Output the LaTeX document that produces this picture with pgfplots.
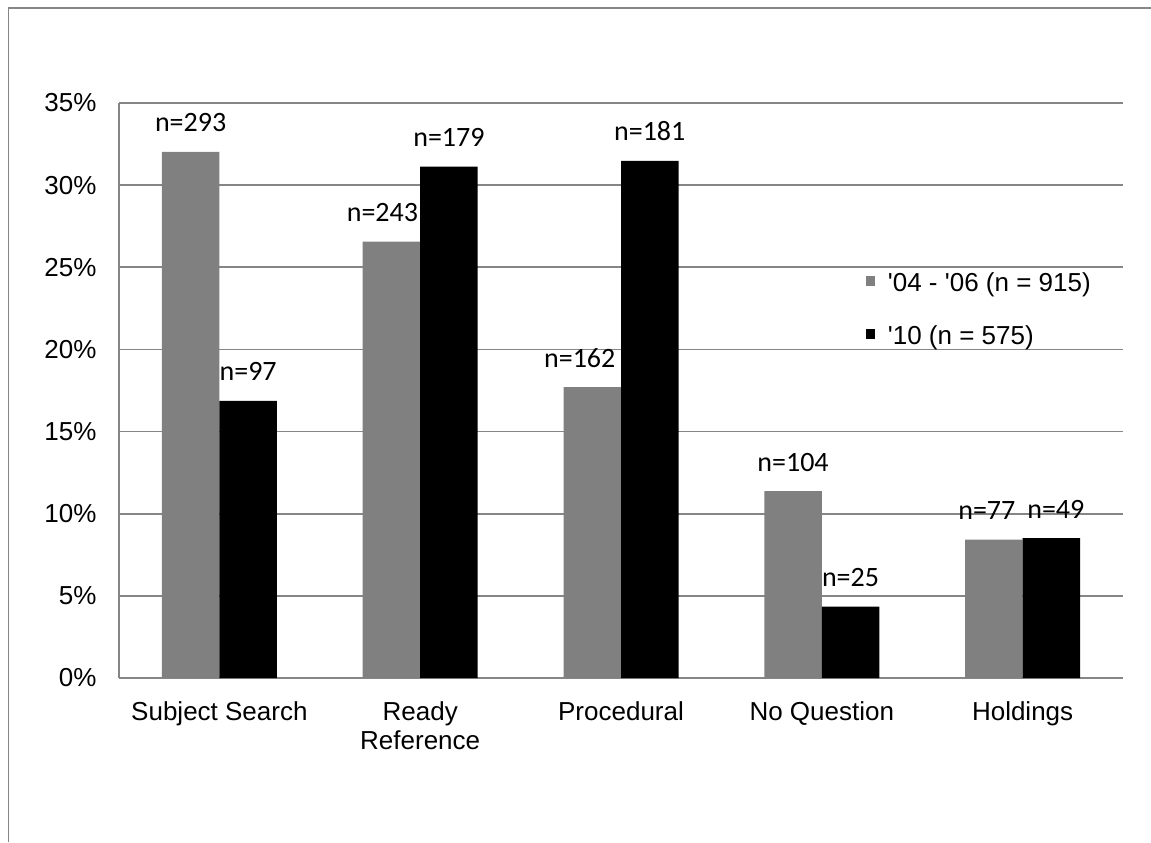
\documentclass[border=0pt]{standalone}
\usepackage{pgfplots}
\usepackage{pgfplotstable}
\pgfplotsset{compat=1.18}
\usepackage{fontspec}
\setmainfont{Liberation Sans}
\newfontfamily\labelfont{Carlito}

\definecolor{gridgray}{HTML}{868686}
\definecolor{bargray}{HTML}{808080}

% share of questions per type; n = count, dx = label nudge (pt)
\pgfplotstableread{
x val   n   dx
0 32.02 293 0
1 26.56 243 -4.5
2 17.70 162 -6.25
3 11.37 104 0
4 8.42  77  -3.5
}\earlydata
\pgfplotstableread{
x val   n   dx
0 16.87 97  0
1 31.13 179 0
2 31.48 181 0
3 4.35  25  0
4 8.52  49  2.25
}\latedata

\begin{document}
\begin{tikzpicture}[x=1pt,y=1pt]
\useasboundingbox (0,0) rectangle (575.5,421);
\draw[gridgray, line width=0.9pt] (4.2,0) -- (4.2,416.8) -- (575.5,416.8);
\begin{axis}[
  at={(59.5pt,82pt)}, anchor=south west,
  scale only axis, width=502pt, height=287.5pt,
  xmin=-0.5, xmax=4.5, ymin=0, ymax=35,
  enlargelimits=false,
  axis lines=left,
  axis line style={gridgray, line width=0.9pt, -},
  ymajorgrids, grid style={gridgray, line width=0.9pt},
  major tick length=0pt,
  ytick={0,5,...,35},
  yticklabels={0\%,5\%,10\%,15\%,20\%,25\%,30\%,35\%},
  xtick={0,1,2,3,4},
  xticklabels={Subject Search,{Ready\\Reference},Procedural,No Question,Holdings},
  ticklabel style={font=\fontsize{13}{14.5}\selectfont},
  xticklabel style={align=center, anchor=north, yshift=-8.5pt},
  yticklabel style={anchor=east, xshift=-7.7pt},
  ybar, bar width=28.75pt,
  point meta=explicit symbolic,
  visualization depends on={\thisrow{dx} \as \dx},
  nodes near coords={n=\pgfplotspointmeta},
  nodes near coords style={font=\labelfont\fontsize{14}{16}\selectfont,
    anchor=base, inner sep=0pt, yshift=10pt, xshift=\dx pt},
  legend style={draw=none, fill=none, at={(rel axis cs:0.744,0.706)},
    anchor=north west, inner sep=0pt, row sep=15.5pt,
    font=\fontsize{13}{14}\selectfont,
    nodes={inner sep=0pt}},
  legend cell align=left,
  legend image code/.code={\fill[#1] (0pt,-1.3pt) rectangle (4.25pt,3.7pt);\path (10.75pt,0pt);},
]
\addplot[fill=bargray, draw=none, bar shift=-14.375pt]
  table[x=x, y=val, meta=n] {\earlydata};
\addplot[fill=black, draw=none, bar shift=14.375pt]
  table[x=x, y=val, meta=n] {\latedata};
\legend{\textquotesingle04 - \textquotesingle06 (n = 915),\textquotesingle10 (n = 575)}
\end{axis}
\end{tikzpicture}
\end{document}
